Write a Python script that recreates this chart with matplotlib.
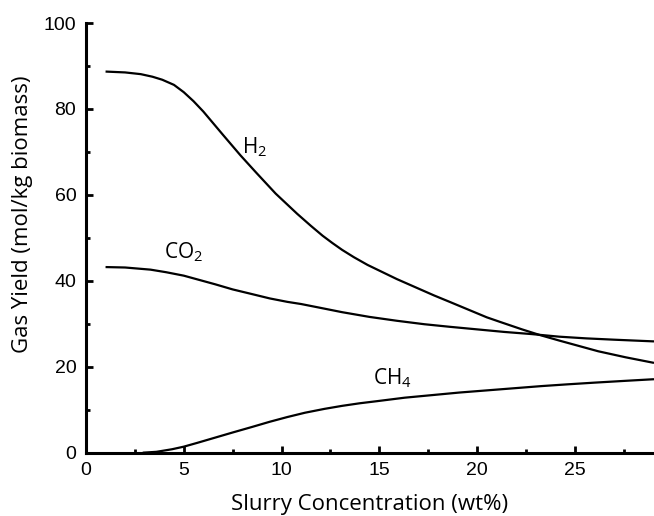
import matplotlib
matplotlib.use("Agg")
import matplotlib.pyplot as plt
from matplotlib.ticker import MultipleLocator

# values
h2_x = [1.0, 2.0, 2.8, 3.4, 3.9, 4.5, 5.0, 5.5, 6.0, 7.0, 7.9, 8.7, 9.7, 10.8, 11.5, 12.1, 12.6, 13.1,
        13.7, 14.4, 15.9, 16.8, 17.8, 18.6, 20.5, 21.2, 22.3, 23.2, 24.2, 26.2, 27.6, 29.05]
h2_y = [88.7, 88.5, 88.1, 87.5, 86.8, 85.6, 83.9, 81.8, 79.4, 74.0, 69.2, 65.2, 60.3, 55.6, 52.8, 50.5, 48.8, 47.2,
        45.5, 43.7, 40.4, 38.6, 36.6, 35.1, 31.5, 30.4, 28.7, 27.4, 26.1, 23.6, 22.2, 20.9]

co2_x = [1.0, 2.0, 3.3, 4.1, 5.0, 5.8, 6.6, 7.5, 8.5, 9.4, 10.3, 11.0, 12.0,
         13.1, 14.5, 15.9, 17.3, 18.6, 20.0, 21.4, 22.8, 24.2, 25.6, 27.0, 29.05]
co2_y = [43.2, 43.1, 42.6, 42.0, 41.2, 40.2, 39.2, 38.0, 36.9, 35.9, 35.1, 34.6, 33.7,
         32.7, 31.6, 30.7, 29.9, 29.3, 28.7, 28.1, 27.6, 27.0, 26.6, 26.3, 25.9]

ch4_x = [2.9, 3.6, 4.4, 5.0, 5.7, 6.6, 7.5, 8.5, 9.4, 10.3, 11.2, 12.2, 13.1,
         14.0, 14.9, 16.3, 17.7, 19.1, 20.5, 21.9, 23.3, 24.6, 26.0, 27.5, 29.05]
ch4_y = [0.0, 0.2, 0.8, 1.4, 2.3, 3.5, 4.7, 6.0, 7.2, 8.3, 9.3, 10.2, 10.9,
         11.5, 12.0, 12.8, 13.4, 14.0, 14.5, 15.0, 15.5, 15.9, 16.3, 16.7, 17.1]

labels = ["H$\\mathregular{_2}$", "CO$\\mathregular{_2}$", "CH$\\mathregular{_4}$"]
label_pos = [(8.0, 69.7), (4.0, 45.3), (14.7, 15.8)]

x_ticks = [0, 5, 10, 15, 20, 25]
y_ticks = [0, 20, 40, 60, 80, 100]

fig = plt.figure(figsize=(6.54, 5.16), dpi=100)
ax = fig.add_axes([0.1315, 0.1227, 0.8685, 0.8327])

for xs, ys in [(h2_x, h2_y), (co2_x, co2_y), (ch4_x, ch4_y)]:
    ax.plot(xs, ys, color="black", lw=1.6, solid_joinstyle="round",
            solid_capstyle="butt", clip_on=False)

for lab, (lx, ly) in zip(labels, label_pos):
    ax.text(lx, ly, lab, fontsize=15, family="Open Sans", ha="left", va="baseline")

ax.set_xlim(0, 29.05)
ax.set_ylim(0, 100)
ax.set_xticks(x_ticks)
ax.set_yticks(y_ticks)
ax.xaxis.set_minor_locator(MultipleLocator(2.5))
ax.yaxis.set_minor_locator(MultipleLocator(10))

for s in ["top", "right"]:
    ax.spines[s].set_visible(False)
for s in ["left", "bottom"]:
    ax.spines[s].set_linewidth(2.2)

ax.tick_params(which="major", direction="in", length=5, width=2, pad=7)
ax.tick_params(which="minor", direction="in", length=3, width=2)
for t in ax.get_xticklabels() + ax.get_yticklabels():
    t.set_fontfamily("Liberation Sans")
    t.set_fontsize(14)

ax.set_xlabel("Slurry Concentration (wt%)", fontsize=16, family="Open Sans")
ax.set_ylabel("Gas Yield (mol/kg biomass)", fontsize=16, family="Open Sans")
ax.xaxis.set_label_coords(0.5, -0.096)
ax.yaxis.set_label_coords(-0.093, 0.556)

fig.savefig("out.png", dpi=100)
